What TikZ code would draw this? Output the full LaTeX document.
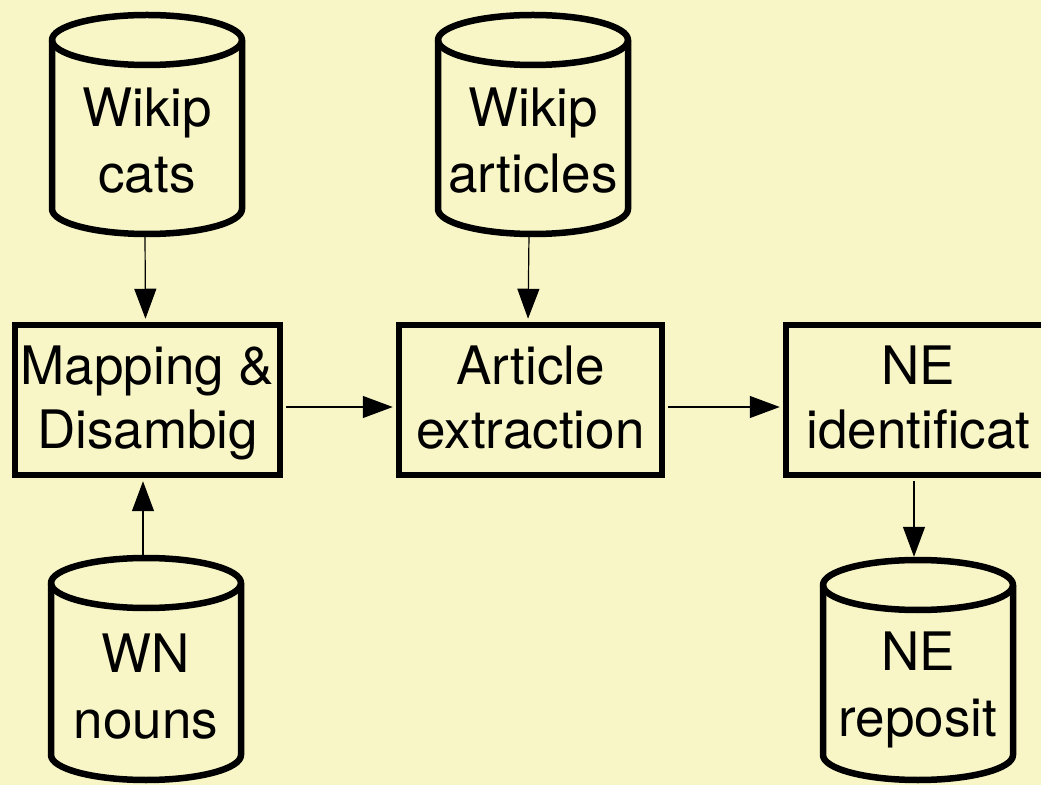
\documentclass[tikz,border=0pt]{standalone}
\usepackage{fontspec}
\setmainfont{TeX Gyre Heros}
\usetikzlibrary{arrows.meta,fit}
\definecolor{bgyellow}{RGB}{248,246,198}
\newcommand\dbcyl[6]{% name, cx, Ytop, Ybot, textY, text
  \path[cylline] (#2-95,#3-25) -- (#2-95,#4+25)
    arc[start angle=180,end angle=360,x radius=95,y radius=25]
    -- (#2+95,#3-25)
    arc[start angle=0,end angle=180,x radius=95,y radius=25] -- cycle;
  \draw[line width=6.5pt] (#2-95,#3-25) arc[start angle=180,end angle=360,x radius=95,y radius=25];
  \node[fit={(#2-95,#3) (#2+95,#4)},inner sep=0pt] (#1) {};
  \node[lbl] (#1-t) at (#2,#5) {#6};
}
\begin{document}
\begin{tikzpicture}[x=1pt,y=1pt,
  lbl/.style={font=\fontsize{53}{66}\selectfont, inner sep=0pt},
  boxlbl/.style={font=\fontsize{53}{64}\selectfont, inner sep=0pt},
  procbox/.style={draw, line width=6.5pt, fill=bgyellow, inner sep=0pt, minimum height=150pt},
  cylline/.style={draw, line width=6.5pt, fill=bgyellow, line join=round},
  flow/.style={line width=1.2pt, -{Triangle[length=30pt,width=22pt]}, shorten >=3pt, shorten <=3pt}]
\setlength{\tabcolsep}{0pt}
\fill[bgyellow] (0,0) rectangle (1041,785);
\useasboundingbox (0,0) rectangle (1041,785);

\dbcyl{c1}{147}{770}{551}{639}{\begin{tabular}{c}Wikip\\cats\end{tabular}}
\dbcyl{c2}{533}{770}{551}{639}{\begin{tabular}{c}Wikip\\articles\end{tabular}}
\dbcyl{c3}{146}{227}{5}{93}{\begin{tabular}{c}WN\\nouns\end{tabular}}
\dbcyl{c4}{918}{225}{5}{95}{\begin{tabular}{c}NE\\reposit\end{tabular}}

\node[procbox, minimum width=265pt] (b1) at (147.5,385) {};
\node[procbox, minimum width=263pt] (b2) at (530.5,385) {};
\node[procbox, minimum width=265pt] (b3) at (918.5,385) {};
\node[boxlbl] (b1-t) at ([yshift=-4pt]b1.center) {\begin{tabular}{c}Mapping \&\\Disambig\end{tabular}};
\node[boxlbl] (b2-t) at ([yshift=-4pt]b2.center) {\begin{tabular}{c}Article\\extraction\end{tabular}};
\node[boxlbl] (b3-t) at ([yshift=-4pt]b3.center) {\begin{tabular}{c}NE\\identificat\end{tabular}};

\draw[flow] ([xshift=-2pt]c1.south) -- ([xshift=-2pt]b1.north);
\draw[flow] ([xshift=-4pt]c2.south) -- ([xshift=-2.5pt]b2.north);
\draw[flow] ([xshift=-3pt]c3.north) -- ([xshift=-4.5pt]b1.south);
\draw[flow] ([yshift=-7pt]b1.east) -- ([yshift=-7pt]b2.west);
\draw[flow] ([yshift=-7pt]b2.east) -- ([yshift=-7pt]b3.west);
\draw[flow] ([xshift=-4.5pt]b3.south) -- ([xshift=-4pt]c4.north);
\end{tikzpicture}
\end{document}
